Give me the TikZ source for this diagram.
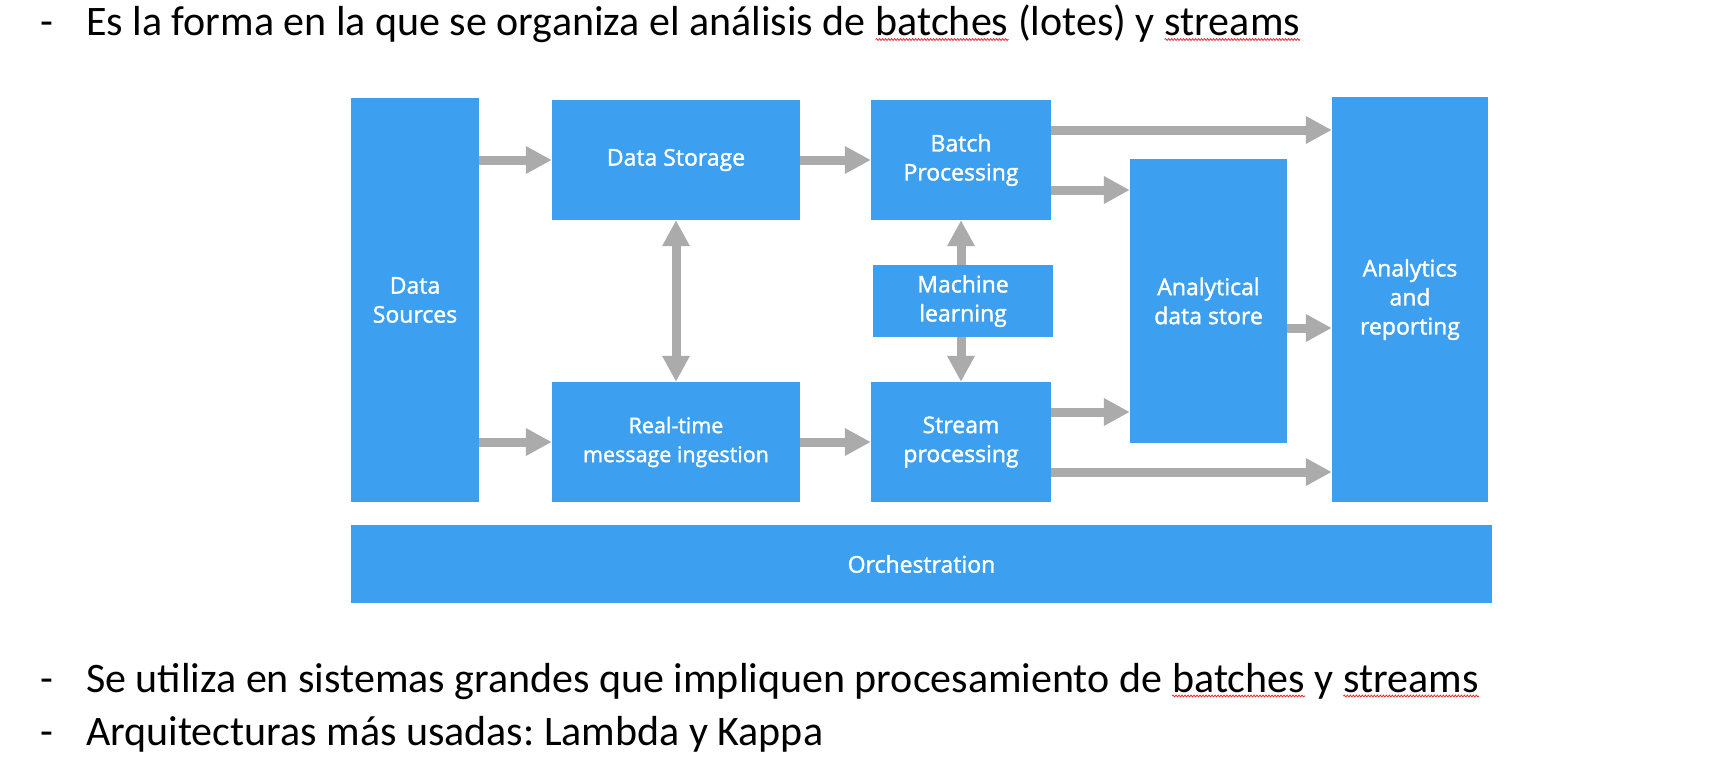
\documentclass[tikz,border=0pt]{standalone}
\usepackage{fontspec}
\setmainfont{Carlito}
\newfontfamily\boxfont[FakeBold=1.6]{Open Sans}
\usetikzlibrary{arrows.meta,decorations.pathmorphing}
\definecolor{boxblue}{RGB}{60,159,239}
\definecolor{arrgray}{RGB}{171,171,171}
\definecolor{wavyred}{RGB}{230,40,40}
\frenchspacing
\begin{document}
\begin{tikzpicture}[x=1pt,y=-1pt,
  box/.style={fill=boxblue, text=white, inner sep=0pt, align=center,
    font=\boxfont\fontsize{23}{29}\selectfont},
  arr/.style={draw=arrgray, line width=9pt, -{Triangle[width=26pt,length=26pt]}},
  biarr/.style={draw=arrgray, line width=9pt,
    {Triangle[width=26pt,length=26pt]}-{Triangle[width=26pt,length=26pt]}},
  bullet/.style={anchor=base west, inner sep=0pt, font=\fontsize{42}{50}\selectfont},
  squiggle/.style={draw=wavyred, line width=0.8pt, decorate,
    decoration={snake, amplitude=0.9pt, segment length=3pt}}]
\useasboundingbox (0,0) rectangle (1711,772);

% boxes
\node[box, minimum width=128pt, minimum height=404pt] (src) at (415,300) {Data\\Sources};
\node[box, minimum width=248pt, minimum height=120pt] (store) at (676,160) {Data Storage};
\node[box, minimum width=248pt, minimum height=120pt, font=\boxfont\fontsize{21.5}{29}\selectfont] (rt) at (676,442) {Real-time\\message ingestion};
\node[box, minimum width=180pt, minimum height=120pt] (batch) at (961,160) {Batch\\Processing};
\node[box, minimum width=180pt, minimum height=72pt] (ml) at (963,301) {Machine\\learning};
\node[box, minimum width=180pt, minimum height=120pt] (stream) at (961,442) {Stream\\processing};
\node[box, minimum width=157pt, minimum height=284pt] (ads) at (1208.5,301) {Analytical\\data store};
\node[box, minimum width=156pt, minimum height=405pt] (ar) at (1410,299.5) {Analytics\\and\\reporting};
\node[box, minimum width=1141pt, minimum height=78pt] (orch) at (921.5,564) {Orchestration};

% connectors
\draw[arr] (src.east |- store.west) -- (store.west);
\draw[arr] (src.east |- rt.west) -- (rt.west);
\draw[arr] (store.east) -- (batch.west);
\draw[arr] (rt.east) -- (stream.west);
\draw[biarr] (store.south) -- (rt.north);
\draw[arr] (ml.north -| batch.south) -- (batch.south);
\draw[arr] (ml.south -| stream.north) -- (stream.north);
\coordinate (b1) at ([yshift=30pt]batch.east);
\coordinate (b2) at ([yshift=-30pt]batch.east);
\coordinate (s1) at ([yshift=30pt]stream.east);
\coordinate (s2) at ([yshift=-30pt]stream.east);
\coordinate (a1) at ([yshift=-27pt]ads.east);
\draw[arr] (b1) -- (b1 -| ar.west);
\draw[arr] (b2) -- (b2 -| ads.west);
\draw[arr] (s1) -- (s1 -| ads.west);
\draw[arr] (s2) -- (s2 -| ar.west);
\draw[arr] (a1) -- (a1 -| ar.west);

% bullet lines
\node[bullet] (d1) at (40,35.5) {-};
\node[bullet] (l1a) at (86,35.5) {Es la forma en la que se organiza el análisis de\ \null};
\node[bullet] (l1b) at (l1a.base east) {batches};
\node[bullet] (l1c) at (l1b.base east) {\ (lotes) y\ \null};
\node[bullet] (l1d) at (l1c.base east) {streams};
\draw[squiggle] ([yshift=-4pt]l1b.base west) -- ([yshift=-4pt]l1b.base east);
\draw[squiggle] ([yshift=-4pt]l1d.base west) -- ([yshift=-4pt]l1d.base east);

\node[bullet] (d2) at (40,692) {-};
\node[bullet] (l2a) at (86,692) {Se utiliza en sistemas grandes que impliquen procesamiento de\ \null};
\node[bullet] (l2b) at (l2a.base east) {batches};
\node[bullet] (l2c) at (l2b.base east) {\ y\ \null};
\node[bullet] (l2d) at (l2c.base east) {streams};
\draw[squiggle] ([yshift=-4pt]l2b.base west) -- ([yshift=-4pt]l2b.base east);
\draw[squiggle] ([yshift=-4pt]l2d.base west) -- ([yshift=-4pt]l2d.base east);

\node[bullet] (d3) at (40,745.5) {-};
\node[bullet] (l3) at (86,745.5) {Arquitecturas más usadas: Lambda y Kappa};
\end{tikzpicture}
\end{document}
